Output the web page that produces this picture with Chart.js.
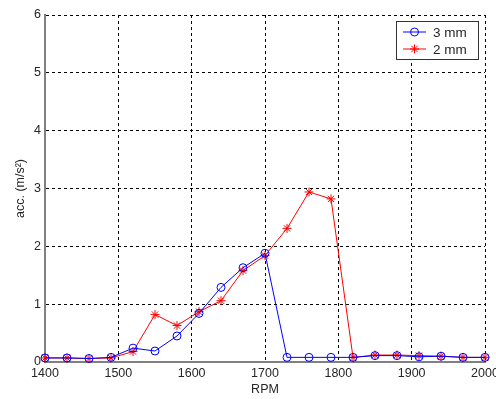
<!DOCTYPE html>
<html>
<head>
<meta charset="utf-8">
<script src="https://cdn.jsdelivr.net/npm/chart.js@4/dist/chart.umd.min.js"></script>
<style>
  body { margin: 0; background: #fff; }
</style>
</head>
<body>
<canvas id="chart-acc" width="496" height="399"></canvas>
<script>
//------------------------- data -------------------------
var rpm = [1400, 1430, 1460, 1490, 1520, 1550, 1580, 1610, 1640, 1670, 1700,
           1730, 1760, 1790, 1820, 1850, 1880, 1910, 1940, 1970, 2000];
var acc_3mm = [0.07, 0.07, 0.06, 0.08, 0.24, 0.19, 0.45, 0.84, 1.29, 1.63, 1.88,
               0.08, 0.08, 0.08, 0.08, 0.11, 0.11, 0.09, 0.10, 0.08, 0.08];
var acc_2mm = [0.07, 0.07, 0.06, 0.07, 0.18, 0.82, 0.63, 0.87, 1.06, 1.58, 1.84,
               2.31, 2.94, 2.82, 0.08, 0.12, 0.12, 0.11, 0.10, 0.08, 0.08];
var series_names = ['3 mm', '2 mm'];
var x_ticks = [1400, 1500, 1600, 1700, 1800, 1900, 2000];
var y_ticks = [0, 1, 2, 3, 4, 5, 6];

//---------------------------------------------------------------------
function toPoints(xs, ys) {
    return xs.map(function (x, i) { return { x: x, y: ys[i] }; });
}

var font_txt = { family: 'Liberation Sans, Arial, sans-serif', size: 12.5 };
var txt_color = '#262626';

// legend drawn inside the plot (matlab style box, top right)
var legendBox = {
    id: 'legendBox',
    afterDraw: function (chart) {
        var ctx = chart.ctx;
        ctx.save();
        ctx.fillStyle = '#ffffff';
        ctx.fillRect(396.5, 21.5, 82, 38);
        ctx.strokeStyle = '#333333';
        ctx.lineWidth = 1;
        ctx.strokeRect(396.5, 21.5, 82, 38);
        chart.data.datasets.forEach(function (ds, i) {
            var y = 32 + i * 17;
            ctx.strokeStyle = ds.borderColor;
            ctx.lineWidth = 1;
            ctx.beginPath();
            ctx.moveTo(403, y);
            ctx.lineTo(426, y);
            ctx.stroke();
            ctx.fillStyle = 'rgba(0,0,0,0)';
            Chart.helpers.drawPoint(ctx, {
                pointStyle: ds.pointStyle, radius: ds.pointRadius, rotation: 0, borderWidth: 1
            }, 414.5, y);
            ctx.fillStyle = txt_color;
            ctx.font = '13.5px Liberation Sans, Arial, sans-serif';
            ctx.textAlign = 'left';
            ctx.textBaseline = 'middle';
            ctx.fillText(ds.label, 433, y + 1);
        });
        ctx.restore();
    }
};

var ctx_acc = document.getElementById('chart-acc').getContext('2d');
var chart_acc = new Chart(ctx_acc, {
    type: 'line',
    data: {
        datasets: [{
            label: series_names[0],
            data: toPoints(rpm, acc_3mm),
            borderColor: '#0000ff',
            backgroundColor: 'rgba(0,0,0,0)',
            pointStyle: 'circle',
            pointRadius: 4,
            pointBorderWidth: 1,
            borderWidth: 1,
            fill: false,
            clip: false
        }, {
            label: series_names[1],
            data: toPoints(rpm, acc_2mm),
            borderColor: '#ff0000',
            backgroundColor: 'rgba(0,0,0,0)',
            pointStyle: 'star',
            pointRadius: 4.5,
            pointBorderWidth: 1,
            borderWidth: 1,
            fill: false,
            clip: false
        }]
    },
    options: {
        responsive: false,
        animation: false,
        layout: { padding: { left: 0, right: 11, top: 15, bottom: 0 } },
        plugins: {
            legend: { display: false },
            tooltip: { enabled: false }
        },
        scales: {
            x: {
                type: 'linear',
                min: 1400,
                max: 2000,
                afterBuildTicks: function (axis) {
                    axis.ticks = x_ticks.map(function (v) { return { value: v }; });
                },
                afterFit: function (axis) {
                    axis.height = 37;
                    axis.paddingLeft = 0;
                    axis.paddingRight = 0;
                },
                ticks: {
                    font: font_txt, color: txt_color, padding: 4, maxRotation: 0, autoSkip: false,
                    callback: function (v) { return String(v); }
                },
                grid: { color: '#000000', lineWidth: 1, drawTicks: false },
                border: { color: '#808080', width: 2, dash: [3, 3] },
                title: {
                    display: true, text: 'RPM', font: font_txt, color: txt_color,
                    padding: { top: 0, bottom: 2 }
                }
            },
            y: {
                min: 0,
                max: 6,
                afterBuildTicks: function (axis) {
                    axis.ticks = y_ticks.map(function (v) { return { value: v }; });
                },
                afterFit: function (axis) {
                    axis.width = 45;
                    axis.paddingTop = 0;
                    axis.paddingBottom = 0;
                },
                ticks: {
                    font: font_txt, color: txt_color, padding: 4,
                    callback: function (v) { return String(v); }
                },
                grid: { color: '#000000', lineWidth: 1, drawTicks: false },
                border: { color: '#808080', width: 2, dash: [3, 3] },
                title: {
                    display: true, text: 'acc. (m/s²)', font: font_txt, color: txt_color,
                    padding: { top: 13, bottom: 0 }
                }
            }
        }
    },
    plugins: [legendBox]
});
</script>
</body>
</html>
